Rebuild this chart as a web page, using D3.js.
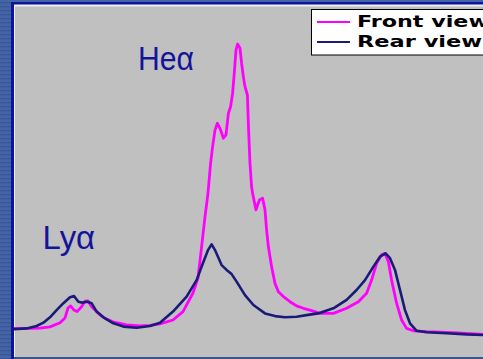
<!DOCTYPE html>
<html>
<head>
<meta charset="utf-8">
<script src="https://cdn.jsdelivr.net/npm/d3@7"></script>
<style>
  html, body { margin: 0; padding: 0; background: #c0c0c0; }
  svg { display: block; }
</style>
</head>
<body>
<script>
// Spectrometer channel (x) and intensity (arbitrary units) for each view
const frontChannel = [0.5, 8.5, 13.5, 18.5, 23.5, 26, 27.5, 28.8, 30.5, 32, 34.3, 36, 37.5, 39.3, 41.8, 44.3, 46.8, 50, 56.8, 63.5, 68.5, 73.5, 80, 85, 90, 92.5, 94.3, 96, 97.5, 98.8, 99.8, 101, 102.2, 103.5, 105.2, 106.5, 107.7, 108.8, 109.8, 110.5, 111.5, 112.3, 113.5, 114.3, 115.2, 116, 117.2, 117.8, 118.5, 119.3, 119.8, 121.5, 123.2, 124.8, 126, 126.8, 127.7, 129.3, 131, 132.7, 135.2, 138.5, 141.8, 145.2, 149.3, 153.5, 160.2, 166.8, 172.7, 176.8, 179.3, 181.8, 184.3, 186, 187.7, 189.3, 191.8, 194.3, 196.8, 200.2, 206.8, 220.2, 235];
const frontCounts = [0.2, 0.2, 0.3, 0.7, 2.1, 3.7, 7.0, 7.7, 6.3, 5.8, 7.4, 9.3, 9.4, 7.4, 5.8, 4.3, 3.3, 2.4, 1.4, 1.0, 1.2, 1.7, 3.0, 5.8, 12.0, 17.0, 27.4, 37.4, 45.3, 55.3, 60.8, 66.3, 68.6, 66.9, 63.6, 64.7, 71.9, 74.1, 78.6, 84.1, 93.0, 95.0, 93.6, 88.6, 84.1, 80.8, 78.0, 66.3, 55.2, 47.4, 45.2, 39.7, 43.0, 43.6, 39.7, 33.0, 27.4, 20.8, 15.2, 12.4, 10.8, 9.1, 7.7, 6.9, 6.1, 5.2, 5.2, 6.9, 9.1, 11.9, 16.3, 21.9, 24.7, 25.2, 22.4, 16.3, 8.6, 3.0, 0.2, -0.6, -0.9, -1.2, -1.8];

const rearChannel = [0.5, 6.8, 11.8, 15.2, 18.5, 21.8, 25.2, 28.5, 30.5, 32.7, 34.3, 37.2, 39.3, 41.8, 45.2, 50.2, 55.2, 61.8, 68.5, 73.5, 80, 86.8, 91.8, 95, 97.5, 99.3, 101, 104.3, 106.8, 109.3, 111.8, 116, 120.2, 126, 131, 136, 141.8, 147.5, 152.5, 160.2, 166.8, 171.8, 176, 180.2, 183.5, 186.3, 188.5, 191, 193.5, 196, 198.5, 201.8, 206.8, 216.8, 226.8, 235];
const rearCounts = [-0.1, 0.2, 1.0, 2.1, 3.9, 6.3, 8.6, 10.6, 11.0, 9.1, 8.8, 9.1, 8.6, 5.8, 3.9, 1.9, 0.8, 0.4, 1.0, 2.1, 5.8, 10.8, 16.3, 22.0, 26.3, 28.2, 26.3, 21.3, 19.7, 18.3, 15.8, 11.3, 8.0, 5.2, 4.3, 3.9, 4.1, 4.7, 5.2, 6.9, 9.7, 13.0, 16.3, 20.8, 24.1, 25.2, 23.6, 19.7, 13.0, 6.3, 1.9, -0.6, -1.1, -1.4, -1.8, -2.0];

const seriesNames = ["Front view", "Rear view"];
const seriesColors = ["#ff00ff", "#1a1a78"];
const lineLabels = [
  { text: "Heα", channel: 62.5, intensity: 86.5, width: 56 },
  { text: "Lyα", channel: 14.8, intensity: 26.7, width: 52.5 }
];

const W = 483, H = 359;
const svg = d3.select("body").append("svg").attr("width", W).attr("height", H);
const defs = svg.append("defs");

// striped blue frame fill
const pat = defs.append("pattern").attr("id", "frame").attr("patternUnits", "userSpaceOnUse")
  .attr("width", 4).attr("height", 4);
pat.append("rect").attr("width", 4).attr("height", 4).attr("fill", "#4464a4");
pat.append("rect").attr("y", 2).attr("width", 4).attr("height", 1.4).attr("fill", "#38579a");

// frame
svg.append("rect").attr("width", W).attr("height", H).attr("fill", "url(#frame)");
svg.append("rect").attr("x", 11).attr("y", 2).attr("width", W - 11).attr("height", H - 2).attr("fill", "#0a149c");
svg.append("rect").attr("x", 14).attr("y", 4.5).attr("width", W - 14).attr("height", H - 4.5).attr("fill", "#eeeeee");
svg.append("rect").attr("x", 15).attr("y", 6.5).attr("width", W - 15).attr("height", 350.5).attr("fill", "#c0c0c0");
svg.append("rect").attr("x", 14).attr("y", 357).attr("width", W - 14).attr("height", 2).attr("fill", "#3a5788");

const x = d3.scaleLinear().domain([0, 235]).range([13, 483]);
const y = d3.scaleLinear().domain([0, 100]).range([329, 29]);

const plot = svg.append("g");
const line = d3.line().x(d => x(d[0])).y(d => y(d[1])).curve(d3.curveLinear);

const rearData = d3.zip(rearChannel, rearCounts);
const frontData = d3.zip(frontChannel, frontCounts);

plot.append("path").datum(frontData).attr("d", line)
  .attr("fill", "none").attr("stroke", seriesColors[0]).attr("stroke-width", 2.8)
  .attr("stroke-linejoin", "round");
plot.append("path").datum(rearData).attr("d", line)
  .attr("fill", "none").attr("stroke", seriesColors[1]).attr("stroke-width", 2.6)
  .attr("stroke-linejoin", "round");

// emission line labels
svg.selectAll("text.ion").data(lineLabels).join("text")
  .attr("class", "ion")
  .attr("x", d => x(d.channel))
  .attr("y", d => y(d.intensity))
  .attr("font-family", "Liberation Sans, Arial, sans-serif")
  .attr("font-size", 34)
  .attr("fill", "#14149a")
  .attr("textLength", d => d.width)
  .attr("lengthAdjust", "spacingAndGlyphs")
  .text(d => d.text);

// legend
const lg = svg.append("g");
lg.append("rect").attr("x", 311.5).attr("y", 9.5).attr("width", 190).attr("height", 45.5)
  .attr("fill", "#ffffff").attr("stroke", "#000000").attr("stroke-width", 1);
const textWidths = [132, 125];
seriesNames.forEach((name, i) => {
  const cy = 22 + i * 20;
  lg.append("line").attr("x1", 317).attr("x2", 350).attr("y1", cy).attr("y2", cy)
    .attr("stroke", seriesColors[i]).attr("stroke-width", 2);
  lg.append("text").attr("x", 357).attr("y", cy + 5.3)
    .attr("font-family", "DejaVu Sans, Verdana, sans-serif")
    .attr("font-weight", "bold").attr("font-size", 16).attr("fill", "#000")
    .attr("textLength", textWidths[i]).attr("lengthAdjust", "spacingAndGlyphs")
    .text(name);
});
</script>
</body>
</html>
